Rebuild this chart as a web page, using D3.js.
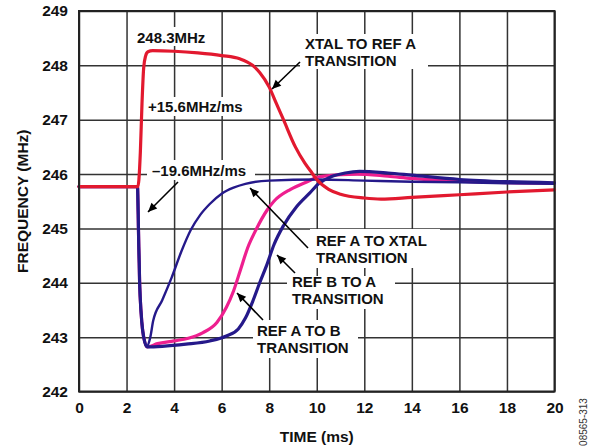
<!DOCTYPE html>
<html>
<head>
<meta charset="utf-8">
<script src="https://cdn.jsdelivr.net/npm/d3@7/dist/d3.min.js"></script>
<style>
  body { margin: 0; background: #fff; }
  svg { display: block; }
  text { font-family: "Liberation Sans", Arial, Helvetica, sans-serif; }
  .axis text, .axis-title, .note { font-weight: bold; font-size: 15.5px; fill: #111; }
  .note { font-size: 15px; }
  .grid line { stroke: #333; stroke-width: 1.5; }
  .curve { fill: none; stroke-linejoin: round; stroke-linecap: round; }
</style>
</head>
<body>
<svg id="chart" width="592" height="448"></svg>
<script>
// tick labels
var timeTicks = [0, 2, 4, 6, 8, 10, 12, 14, 16, 18, 20];
var freqTicks = [242, 243, 244, 245, 246, 247, 248, 249];

// [time ms, frequency MHz]
var xtalToRefA = [
  [0, 245.77], [2.48, 245.77], [2.52, 245.9], [2.58, 246.4], [2.65, 247.3],
  [2.72, 247.95], [2.8, 248.17], [2.9, 248.25], [3.1, 248.27], [4, 248.26],
  [5, 248.23], [6, 248.18], [6.76, 248.12], [7.3, 248.0], [7.6, 247.87],
  [8.0, 247.6], [8.3, 247.3], [8.6, 247.0], [9.1, 246.5], [9.5, 246.2],
  [9.8, 246.02], [10.0, 245.9], [10.5, 245.72], [11, 245.63], [12, 245.56],
  [12.7, 245.54], [14, 245.57], [16, 245.62], [18, 245.67], [20, 245.71]
];
var refAToXtal = [
  [0, 245.77], [2.46, 245.77], [2.5, 245.0], [2.55, 244.0], [2.62, 243.4],
  [2.72, 243.0], [2.85, 242.83], [3.0, 243.0], [3.12, 243.3], [3.5, 243.68],
  [3.9, 244.1], [4.3, 244.57], [4.7, 244.97], [5.1, 245.25], [5.5, 245.45],
  [6.0, 245.64], [6.5, 245.75], [7.0, 245.82], [8.0, 245.88], [10, 245.9],
  [12, 245.88], [14, 245.86], [16, 245.85], [18, 245.83], [20, 245.82]
];
var refBToA = [
  [0, 245.77], [2.46, 245.77], [2.5, 245.0], [2.55, 244.0], [2.62, 243.4],
  [2.72, 243.0], [2.87, 242.82], [3.3, 242.88], [4.0, 242.93], [4.6, 242.98],
  [5.2, 243.08], [5.8, 243.27], [6.2, 243.55], [6.5, 243.85], [6.8, 244.25],
  [7.1, 244.65], [7.45, 244.98], [7.9, 245.33], [8.2, 245.5], [8.9, 245.72],
  [9.6, 245.86], [10.1, 245.95], [11, 245.99], [11.7, 246.0], [13, 245.96],
  [14, 245.92], [16.5, 245.86], [20, 245.83]
];
var refAToB = [
  [0, 245.77], [2.46, 245.77], [2.5, 245.0], [2.55, 244.0], [2.62, 243.4],
  [2.72, 243.0], [2.87, 242.82], [3.5, 242.83], [4.5, 242.87], [5.5, 242.93],
  [6.2, 243.02], [6.7, 243.15], [7.0, 243.35], [7.3, 243.65], [7.6, 244.0],
  [7.9, 244.33], [8.2, 244.7], [8.6, 245.05], [9.15, 245.4], [9.7, 245.65],
  [10.1, 245.83], [10.6, 245.95], [11.2, 246.02], [11.8, 246.05], [13, 246.02],
  [14, 245.98], [16, 245.9], [18, 245.86], [20, 245.84]
];

var margin = {top: 11, left: 79},
    width = 475.5,
    height = 380.5;

var svg = d3.select('#chart');

svg.append('defs').append('marker')
    .attr('id', 'arrow')
    .attr('viewBox', '0 -5 10 10')
    .attr('refX', 10)
    .attr('refY', 0)
    .attr('markerUnits', 'userSpaceOnUse')
    .attr('markerWidth', 11)
    .attr('markerHeight', 9)
    .attr('orient', 'auto')
  .append('path')
    .attr('d', 'M0,-4.5L10,0L0,4.5Z')
    .attr('fill', '#000');

var g = svg.append('g')
    .attr('transform', 'translate(' + margin.left + ',' + margin.top + ')');

var x = d3.scaleLinear().domain([0, 20]).range([0, width]);
var y = d3.scaleLinear().domain([242, 249]).range([height, 0]);

//axes, with the ticks stretched into the grid
g.append('g')
    .attr('class', 'axis grid')
    .attr('transform', 'translate(0,' + height + ')')
    .call(d3.axisBottom(x).tickValues(timeTicks).tickFormat(d3.format('d'))
        .tickSize(-height).tickPadding(10.5))
    .call(function(a) { a.select('.domain').remove(); });

g.append('g')
    .attr('class', 'axis grid')
    .call(d3.axisLeft(y).tickValues(freqTicks).tickFormat(d3.format('d'))
        .tickSize(-width).tickPadding(11))
    .call(function(a) { a.select('.domain').remove(); });

//white boxes behind the notes
var boxes = [
  [55, 16, 77, 19], [66, 86, 107, 19], [68, 149, 108, 20], [221, 23, 128, 35],
  [231, 218, 130, 39], [208, 265, 108, 33], [174, 309, 105, 38]
];
g.selectAll('.note-box')
    .data(boxes)
  .enter().append('rect')
    .attr('class', 'note-box')
    .attr('x', function(d) { return d[0]; })
    .attr('y', function(d) { return d[1]; })
    .attr('width', function(d) { return d[2]; })
    .attr('height', function(d) { return d[3]; })
    .attr('fill', '#fff');

//curves
var line = d3.line()
    .x(function(d) { return x(d[0]); })
    .y(function(d) { return y(d[1]); })
    .curve(d3.curveMonotoneX);

var series = [
  {data: refBToA, color: '#ee1f8f', w: 3.2},
  {data: refAToXtal, color: '#25198a', w: 2.4},
  {data: refAToB, color: '#25198a', w: 3.2},
  {data: xtalToRefA, color: '#e2192f', w: 3.2}
];
g.selectAll('.curve')
    .data(series)
  .enter().append('path')
    .attr('class', 'curve')
    .attr('d', function(d) { return line(d.data); })
    .attr('stroke', function(d) { return d.color; })
    .attr('stroke-width', function(d) { return d.w; });

//plot frame
g.append('rect')
    .attr('width', width)
    .attr('height', height)
    .attr('fill', 'none')
    .attr('stroke', '#222')
    .attr('stroke-width', 2);

//callout arrows
var arrows = [
  [99, 171, 69, 201], [221, 51, 193, 78], [229, 237, 171, 177],
  [216, 262, 198, 244], [184, 309, 158, 282]
];
g.selectAll('.callout')
    .data(arrows)
  .enter().append('line')
    .attr('class', 'callout')
    .attr('x1', function(d) { return d[0]; })
    .attr('y1', function(d) { return d[1]; })
    .attr('x2', function(d) { return d[2]; })
    .attr('y2', function(d) { return d[3]; })
    .attr('stroke', '#000')
    .attr('stroke-width', 1.6)
    .attr('marker-end', 'url(#arrow)');

//notes, one text per note with a tspan per line
var notes = [
  [['248.3MHz'], 58, 32], [['+15.6MHz/ms'], 69, 101], [['\u201319.6MHz/ms'], 73, 165],
  [['XTAL TO REF A', 'TRANSITION'], 226, 38],
  [['REF A TO XTAL', 'TRANSITION'], 237, 235],
  [['REF B TO A', 'TRANSITION'], 213, 276],
  [['REF A TO B', 'TRANSITION'], 178, 325]
];
g.selectAll('.note')
    .data(notes)
  .enter().append('text')
    .attr('class', 'note')
    .attr('x', function(d) { return d[1]; })
    .attr('y', function(d) { return d[2]; })
    .each(function(d) {
      var t = d3.select(this);
      d[0].forEach(function(s, i) {
        t.append('tspan')
            .attr('x', d[1])
            .attr('dy', i ? 17 : 0)
            .text(s);
      });
    });

//axis titles
svg.append('text')
    .attr('class', 'axis-title')
    .attr('text-anchor', 'middle')
    .attr('transform', 'translate(27.5,' + (margin.top + height / 2) + ') rotate(-90)')
    .text('FREQUENCY (MHz)');

svg.append('text')
    .attr('class', 'axis-title')
    .attr('text-anchor', 'middle')
    .attr('x', margin.left + width / 2)
    .attr('y', 442)
    .text('TIME (ms)');

svg.append('text')
    .attr('text-anchor', 'middle')
    .attr('transform', 'translate(587,422) rotate(-90)')
    .attr('font-size', '10px')
    .attr('fill', '#333')
    .text('08565-313');
</script>
</body>
</html>
